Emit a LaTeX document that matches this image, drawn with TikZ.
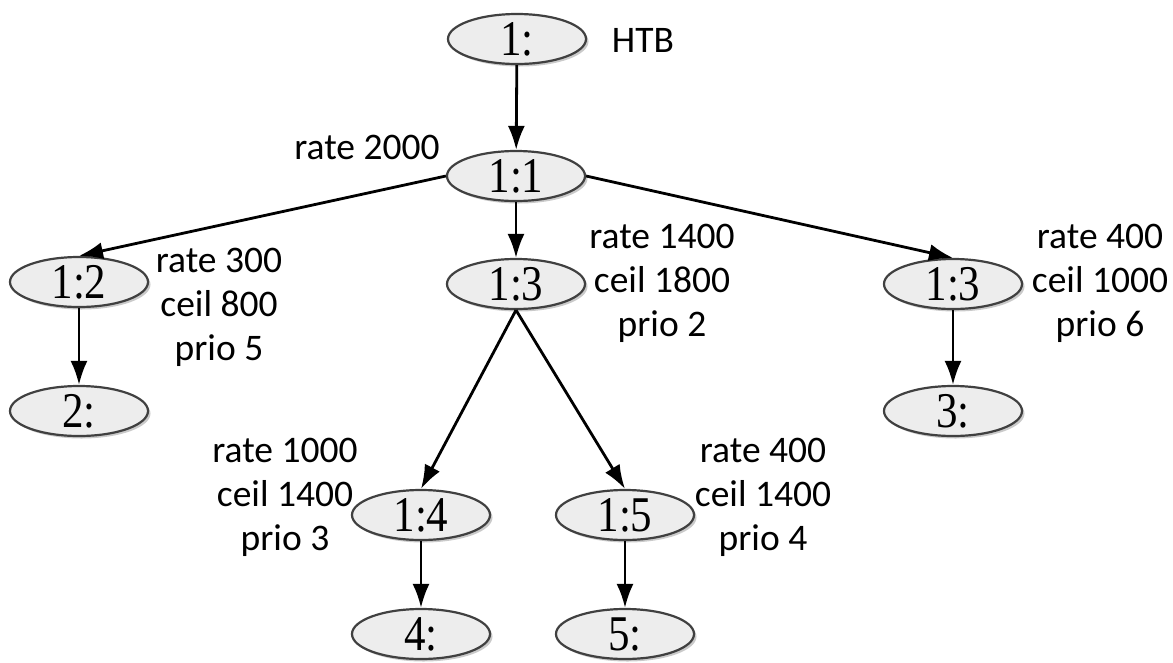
\documentclass[tikz,border=0pt]{standalone}
\usepackage{fontspec}
\setmainfont{Carlito}
\newfontfamily\classfont[FakeStretch=0.86]{Liberation Serif}
\usetikzlibrary{shapes.geometric,arrows.meta,shadows}

\tikzset{
  qclass/.style={ellipse, draw=black!75, line width=2.2pt, fill=black!7,
    minimum width=138pt, minimum height=50pt, inner sep=0pt,
    font=\classfont\fontsize{50}{50}\selectfont,
    drop shadow={shadow xshift=2.5pt, shadow yshift=-2.5pt, opacity=0.35, fill=black!60}},
  params/.style={align=center, inner sep=0pt, font=\fontsize{37.5}{44}\selectfont},
  link/.style={line width=2.8pt, -{Latex[length=24pt,width=17pt]}}
}

\begin{document}
\begin{tikzpicture}[x=1pt, y=-1pt]
\useasboundingbox (0,0) rectangle (1173,662);

% class tree
\node[qclass] (root) at (517,39)  {1:};
\node[qclass] (c11)  at (516,176) {1:1};
\node[qclass] (c12)  at (79,282)  {1:2};
\node[qclass] (c13)  at (516,284) {1:3};
\node[qclass] (c13r) at (953,284) {1:3};
\node[qclass] (q2)   at (79,411)  {2:};
\node[qclass] (q3)   at (953,411) {3:};
\node[qclass] (c14)  at (421,515) {1:4};
\node[qclass] (c15)  at (625,515) {1:5};
\node[qclass] (q4)   at (421,634) {4:};
\node[qclass] (q5)   at (625,634) {5:};

% parameters
\node[params] (htb)  at (643,40)  {HTB};
\node[params] (p11)  at (367,147) {rate 2000};
\node[params] (p12)  at (219,307) {rate 300\\ceil 800\\prio 5};
\node[params] (p13)  at (662,283) {rate 1400\\ceil 1800\\prio 2};
\node[params] (p13r) at (1100,283) {rate 400\\ceil 1000\\prio 6};
\node[params] (p14)  at (285,497) {rate 1000\\ceil 1400\\prio 3};
\node[params] (p15)  at (763,497) {rate 400\\ceil 1400\\prio 4};

% links
\draw[link] (root) -- (c11);
\draw[link] (c11.west) -- (c12.north);
\draw[link] (c11) -- (c13);
\draw[link] (c11.east) -- (c13r.north);
\draw[link] (c12) -- (q2);
\draw[link] (c13r) -- (q3);
\draw[link] (c13.south) -- (c14.north);
\draw[link] (c13.south) -- (c15.north);
\draw[link] (c14) -- (q4);
\draw[link] (c15) -- (q5);
\end{tikzpicture}
\end{document}
